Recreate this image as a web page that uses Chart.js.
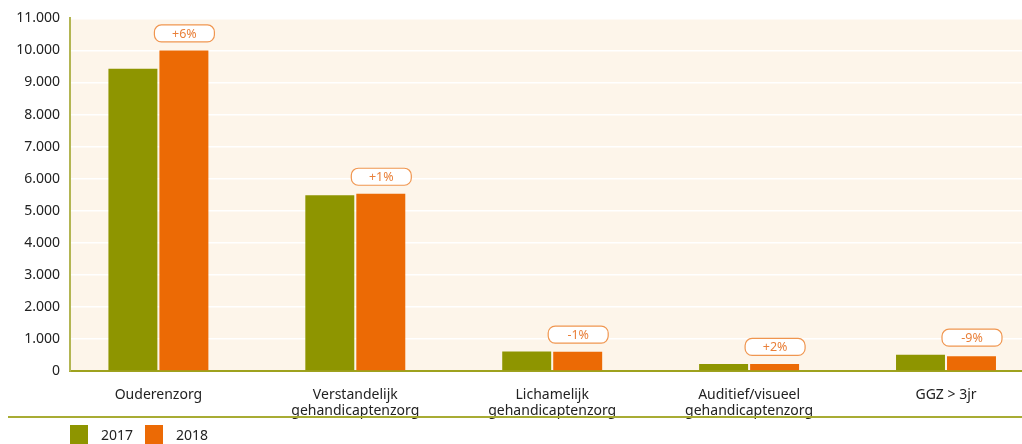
<!DOCTYPE html>
<html>
<head>
<meta charset="utf-8">
<script src="https://cdn.jsdelivr.net/npm/chart.js@4"></script>
<style>
  html, body { margin: 0; padding: 0; background: #ffffff; overflow: hidden; }
  #wrap { width: 1022px; height: 444px; }
</style>
</head>
<body>
<div id="wrap"><canvas id="zorg-chart" width="1022" height="444"></canvas></div>
<script>
// categories and values
var categories = [
    'Ouderenzorg',
    ['Verstandelijk', 'gehandicaptenzorg'],
    ['Lichamelijk', 'gehandicaptenzorg'],
    ['Auditief/visueel', 'gehandicaptenzorg'],
    'GGZ > 3jr'
];
var values2017 = [9430, 5480, 605, 215, 510];
var values2018 = [10000, 5530, 600, 220, 464];
var changes = ['+6%', '+1%', '-1%', '+2%', '-9%'];
var yTicks = [0, 1000, 2000, 3000, 4000, 5000, 6000, 7000, 8000, 9000, 10000, 11000];

var OLIVE = '#8e9500';
var ORANGE = '#ec6a05';
var FONT = '"Noto Sans", "DejaVu Sans", sans-serif';

function thousands(v) {
    return String(v).replace(/\B(?=(\d{3})+(?!\d))/g, '.');
}

// cream plot background
var plotBackground = {
    id: 'plotBackground',
    beforeDraw: function(chart) {
        var a = chart.chartArea, ctx = chart.ctx;
        ctx.save();
        ctx.fillStyle = '#fdf5ea';
        ctx.fillRect(a.left, a.top, a.right - a.left, a.bottom - a.top);
        ctx.restore();
    }
};

// rounded percentage badges above each pair of bars
var changeBadges = {
    id: 'changeBadges',
    afterDatasetsDraw: function(chart) {
        var ctx = chart.ctx;
        var m0 = chart.getDatasetMeta(0), m1 = chart.getDatasetMeta(1);
        ctx.save();
        changes.forEach(function(txt, i) {
            var b0 = m0.data[i], b1 = m1.data[i];
            var w = 60, h = 17, r = 7;
            var cx = b1.x;
            var bottom = Math.min(b0.y, b1.y) - 9;
            var x = cx - w / 2, y = bottom - h;
            ctx.beginPath();
            ctx.roundRect(x + 0.5, y + 0.5, w, h, r);
            ctx.fillStyle = '#ffffff';
            ctx.fill();
            ctx.lineWidth = 1.2;
            ctx.strokeStyle = '#f09650';
            ctx.stroke();
            ctx.fillStyle = '#e9803a';
            ctx.font = '12.5px ' + FONT;
            ctx.textAlign = 'center';
            ctx.textBaseline = 'middle';
            ctx.fillText(txt, cx + 0.5, y + h / 2 + 1);
        });
        ctx.restore();
    }
};

// separator line and legend along the bottom
var bottomLegend = {
    id: 'bottomLegend',
    afterDraw: function(chart) {
        var ctx = chart.ctx;
        ctx.save();
        ctx.strokeStyle = '#a8ac34';
        ctx.lineWidth = 2;
        ctx.beginPath();
        ctx.moveTo(8, 417);
        ctx.lineTo(1022, 417);
        ctx.stroke();

        var xs = [70, 145];
        ctx.font = '14px ' + FONT;
        ctx.textBaseline = 'middle';
        ctx.textAlign = 'left';
        chart.data.datasets.forEach(function(ds, i) {
            ctx.fillStyle = ds.backgroundColor;
            ctx.fillRect(xs[i], 425, 18, 19);
            ctx.fillStyle = '#222222';
            ctx.fillText(ds.label, xs[i] + 31, 436);
        });
        ctx.restore();
    }
};

var idx = categories.map(function(_, i) { return i; });

new Chart(document.getElementById('zorg-chart'), {
    type: 'bar',
    data: {
        datasets: [
            {
                label: '2017',
                backgroundColor: OLIVE,
                data: idx.map(function(i) { return { x: i, y: values2017[i] }; }),
                barPercentage: 0.96,
                categoryPercentage: 0.518
            },
            {
                label: '2018',
                backgroundColor: ORANGE,
                data: idx.map(function(i) { return { x: i, y: values2018[i] }; }),
                barPercentage: 0.96,
                categoryPercentage: 0.518
            }
        ]
    },
    options: {
        responsive: false,
        animation: false,
        layout: { padding: { top: 18, right: 0, bottom: 0, left: 0 } },
        plugins: {
            legend: { display: false },
            tooltip: { enabled: false }
        },
        scales: {
            x: {
                type: 'linear',
                offset: false,
                min: -0.449,
                max: 4.386,
                grid: { display: false, offset: false },
                border: { display: true, color: '#9ea21e', width: 2 },
                afterBuildTicks: function(scale) {
                    scale.ticks = idx.map(function(i) { return { value: i }; });
                },
                afterFit: function(scale) { scale.height = 73; },
                ticks: {
                    autoSkip: false,
                    maxRotation: 0,
                    padding: 8,
                    color: '#222222',
                    font: { family: FONT, size: 14, lineHeight: 1.15 },
                    callback: function(v) { return categories[v]; }
                }
            },
            y: {
                min: 0,
                max: 11000,
                grid: { color: '#ffffff', lineWidth: 1.5, drawTicks: false },
                border: { display: true, color: '#b3b552', width: 2 },
                afterBuildTicks: function(scale) {
                    scale.ticks = yTicks.map(function(v) { return { value: v }; });
                },
                afterFit: function(scale) { scale.width = 70; },
                ticks: {
                    padding: 10,
                    color: '#222222',
                    font: { family: FONT, size: 14 },
                    callback: function(v) { return thousands(v); }
                }
            }
        }
    },
    plugins: [plotBackground, changeBadges, bottomLegend]
});
</script>
</body>
</html>
